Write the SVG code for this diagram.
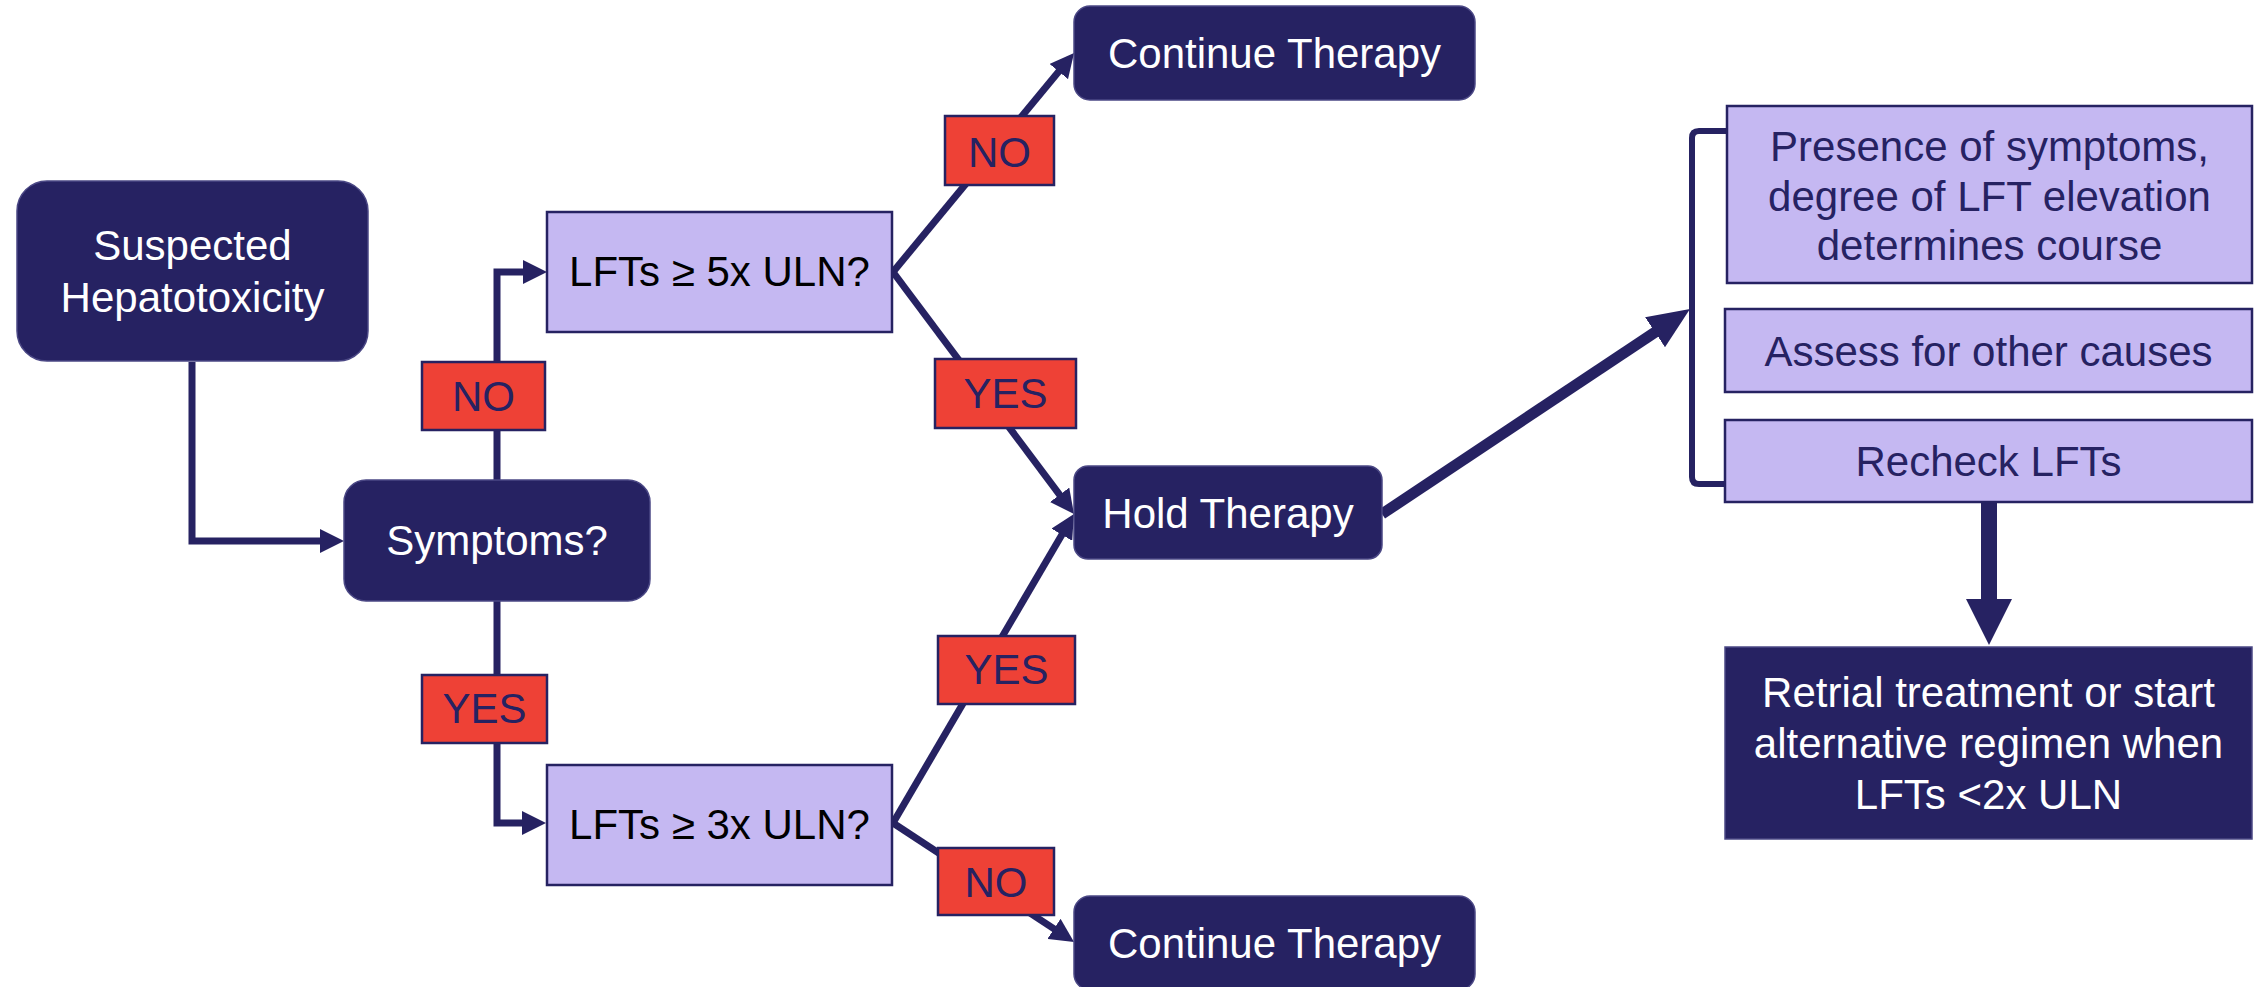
<svg xmlns="http://www.w3.org/2000/svg" width="2257" height="987" viewBox="0 0 2257 987">
<style>
text{font-family:"Liberation Sans",Arial,sans-serif;font-size:42px;text-anchor:middle}
.dark{fill:#262262;stroke:#4b4885;stroke-width:1.5}
.lav{fill:#C5B8F2;stroke:#262262;stroke-width:2.5}
.lbl{fill:#EE4136;stroke:#262262;stroke-width:2.5}
.wt{fill:#ffffff}
.nt{fill:#262262}
.bt{fill:#000000}
.con{fill:none;stroke:#262262;stroke-width:7;stroke-linejoin:miter}
</style>
<defs>
<marker id="ah" viewBox="0 0 24 24" refX="12" refY="12" markerWidth="24" markerHeight="24" markerUnits="userSpaceOnUse" orient="auto">
<path d="M0,0 L24,12 L0,24 z" fill="#262262"/>
</marker>
<marker id="ahBig" viewBox="0 0 42 36" refX="21" refY="18" markerWidth="42" markerHeight="36" markerUnits="userSpaceOnUse" orient="auto">
<path d="M0,0 L42,18 L0,36 z" fill="#262262"/>
</marker>
</defs>
<rect width="2257" height="987" fill="#ffffff"/>
<g id="connectors">
<path class="con" d="M192,362 V541 H332" marker-end="url(#ah)"/>
<path class="con" d="M497,480 V272 H535" marker-end="url(#ah)"/>
<path class="con" d="M497,601 V823 H534" marker-end="url(#ah)"/>
<path class="con" d="M893,272 L1066.4,62.3" marker-end="url(#ah)"/>
<path class="con" d="M893,272 L1066.8,504.4" marker-end="url(#ah)"/>
<path class="con" d="M893,823 L1067.9,524.4" marker-end="url(#ah)"/>
<path class="con" d="M893,823 L1064,935.4" marker-end="url(#ah)"/>
<path class="con" style="stroke-width:11" d="M1382,514 L1672.5,320.6" marker-end="url(#ahBig)"/>
<path class="con" style="stroke-width:6" d="M1727,131 H1699 Q1692,131 1692,138 V477 Q1692,484 1699,484 H1726"/>
<path d="M1981,502 H1997 V599 H2012 L1989,645 L1966,599 H1981 Z" fill="#262262"/>
</g>
<g id="n-suspected">
<rect class="dark" x="17" y="181" width="351" height="180" rx="30"/>
<text class="wt" x="192.5" y="260">Suspected</text>
<text class="wt" x="192.5" y="312">Hepatotoxicity</text>
</g>
<g id="n-symptoms">
<rect class="dark" x="344" y="480" width="306" height="121" rx="22"/>
<text class="wt" x="497" y="555">Symptoms?</text>
</g>
<g id="n-lft5">
<rect class="lav" x="547" y="212" width="345" height="120"/>
<text class="bt" x="719.5" y="286">LFTs ≥ 5x ULN?</text>
</g>
<g id="n-lft3">
<rect class="lav" x="547" y="765" width="345" height="120"/>
<text class="bt" x="719.5" y="839">LFTs ≥ 3x ULN?</text>
</g>
<g id="n-continue-top">
<rect class="dark" x="1074" y="6" width="401" height="94" rx="16"/>
<text class="wt" x="1274.5" y="68">Continue Therapy</text>
</g>
<g id="n-hold">
<rect class="dark" x="1074" y="466" width="308" height="93" rx="14"/>
<text class="wt" x="1228" y="528">Hold Therapy</text>
</g>
<g id="n-continue-bottom">
<rect class="dark" x="1074" y="896" width="401" height="94" rx="16"/>
<text class="wt" x="1274.5" y="958">Continue Therapy</text>
</g>
<g id="l-no-left">
<rect class="lbl" x="422" y="362" width="123" height="68"/>
<text class="nt" x="483.5" y="411">NO</text>
</g>
<g id="l-yes-left">
<rect class="lbl" x="422" y="675" width="125" height="68"/>
<text class="nt" x="484.5" y="723">YES</text>
</g>
<g id="l-no-top">
<rect class="lbl" x="945" y="116" width="109" height="69"/>
<text class="nt" x="999.5" y="167">NO</text>
</g>
<g id="l-yes-upper">
<rect class="lbl" x="935" y="359" width="141" height="69"/>
<text class="nt" x="1005.5" y="408">YES</text>
</g>
<g id="l-yes-lower">
<rect class="lbl" x="938" y="636" width="137" height="68"/>
<text class="nt" x="1006.5" y="684">YES</text>
</g>
<g id="l-no-lower">
<rect class="lbl" x="938" y="848" width="116" height="67"/>
<text class="nt" x="996" y="897">NO</text>
</g>
<g id="n-presence">
<rect class="lav" x="1727" y="106" width="525" height="177"/>
<text class="nt" x="1989.5" y="161">Presence of symptoms,</text>
<text class="nt" x="1989.5" y="211">degree of LFT elevation</text>
<text class="nt" x="1989.5" y="260">determines course</text>
</g>
<g id="n-assess">
<rect class="lav" x="1725" y="309" width="527" height="83"/>
<text class="nt" x="1988.5" y="366">Assess for other causes</text>
</g>
<g id="n-recheck">
<rect class="lav" x="1725" y="420" width="527" height="82"/>
<text class="nt" x="1988.5" y="476">Recheck LFTs</text>
</g>
<g id="n-retrial">
<rect class="dark" x="1725" y="647" width="527" height="192"/>
<text class="wt" x="1988.5" y="707">Retrial treatment or start</text>
<text class="wt" x="1988.5" y="758">alternative regimen when</text>
<text class="wt" x="1988.5" y="809">LFTs &lt;2x ULN</text>
</g>
</svg>
